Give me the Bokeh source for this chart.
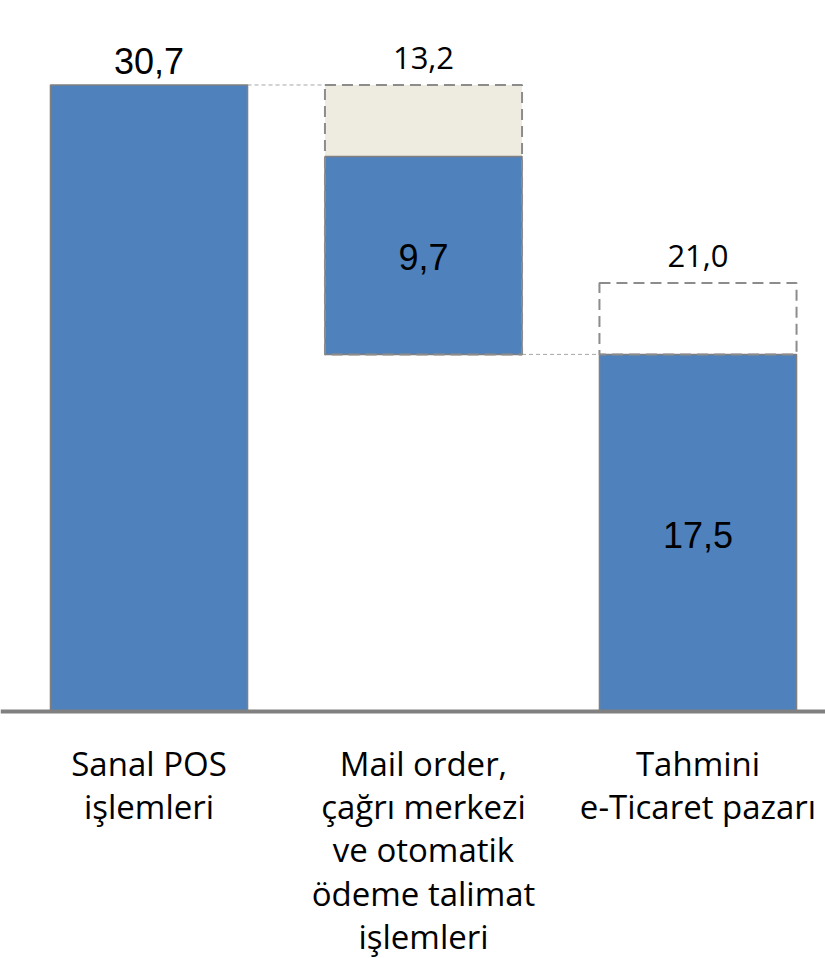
from bokeh.plotting import figure
from bokeh.models import Range1d, Span
from bokeh.embed import file_html
from bokeh.resources import INLINE
from bokeh.core.properties import value

# ---- data ----
categories = ["Sanal POS\nişlemleri",
              "Mail order,\nçağrı merkezi\nve otomatik\nödeme talimat\nişlemleri",
              "Tahmini\ne-Ticaret pazarı"]
x_pos = [0, 1, 2]
sanal_pos_total = 30.7
mail_order_total = 13.2
mail_order_known = 9.7
eticaret_known = 17.5
eticaret_total = 21.0

def fmt(v):
    return f"{v:.1f}".replace(".", ",")

BLUE = "#4F81BD"
BEIGE = "#EEECE1"
EDGE = "#808080"
W = 0.718

p = figure(width=825, height=958,
           x_range=Range1d(-0.541, 2.4645), y_range=Range1d(-12.10, 34.84),
           output_backend="svg", toolbar_location=None, min_border=0,
           x_axis_type=None, y_axis_type=None, outline_line_color=None)
p.grid.visible = False
p.background_fill_color = "white"
p.border_fill_color = "white"

mail_bottom = sanal_pos_total - mail_order_total
mail_known_top = mail_bottom + mail_order_known

# connectors
p.segment(x0=[x_pos[0] + W / 2, x_pos[1] + W / 2], y0=[sanal_pos_total, mail_bottom],
          x1=[x_pos[1] - W / 2, x_pos[2] - W / 2], y1=[sanal_pos_total, mail_bottom],
          line_color="#A6A6A6", line_width=1, line_dash="4 3")

# bar 1
p.vbar(x=[x_pos[0]], width=W, bottom=[0], top=[sanal_pos_total],
       fill_color=BLUE, line_color=EDGE, line_width=1.5)

# bar 2: unknown (beige) part + known (blue) part
p.vbar(x=[x_pos[1]], width=W, bottom=[mail_known_top], top=[sanal_pos_total],
       fill_color=BEIGE, line_color=None)
p.vbar(x=[x_pos[1]], width=W, bottom=[mail_bottom], top=[mail_known_top],
       fill_color=BLUE, line_color=EDGE, line_width=1.5)
# bar 3
p.vbar(x=[x_pos[2]], width=W, bottom=[0], top=[eticaret_known],
       fill_color=BLUE, line_color=EDGE, line_width=1.5)

# dashed totals
p.vbar(x=[x_pos[1], x_pos[2]], width=W,
       bottom=[mail_bottom, eticaret_known],
       top=[sanal_pos_total, eticaret_total],
       fill_color=None, line_color="#8C8C8C", line_width=2, line_dash="11 6")

# axis line
p.add_layout(Span(location=0, dimension="width", line_color=EDGE, line_width=4))

# value labels (Arial-like)
p.text(x=[x_pos[0]], y=[sanal_pos_total], text=[fmt(sanal_pos_total)],
       text_font=value("Liberation Sans"), text_font_size="36px",
       text_align="center", text_baseline="bottom", y_offset=-11, text_color="black")
p.text(x=[x_pos[1], x_pos[2]],
       y=[(mail_bottom + mail_known_top) / 2, eticaret_known / 2],
       text=[fmt(mail_order_known), fmt(eticaret_known)],
       text_font=value("Liberation Sans"), text_font_size="36px",
       text_align="center", text_baseline="middle", y_offset=2, text_color="black")
# total labels (Calibri-like)
p.text(x=[x_pos[1], x_pos[2]], y=[sanal_pos_total, eticaret_total],
       text=[fmt(mail_order_total), fmt(eticaret_total)],
       text_font=value("Open Sans"), text_font_size="31px",
       text_align="center", text_baseline="bottom", y_offset=-16, text_color="black")

# category labels
p.text(x=x_pos, y=[0, 0, 0], text=categories,
       text_font=value("Open Sans"), text_font_size="33px",
       text_align="center", text_baseline="top", y_offset=29,
       text_line_height=0.965, text_color="black")

open("out.html", "w").write(file_html(p, INLINE))
